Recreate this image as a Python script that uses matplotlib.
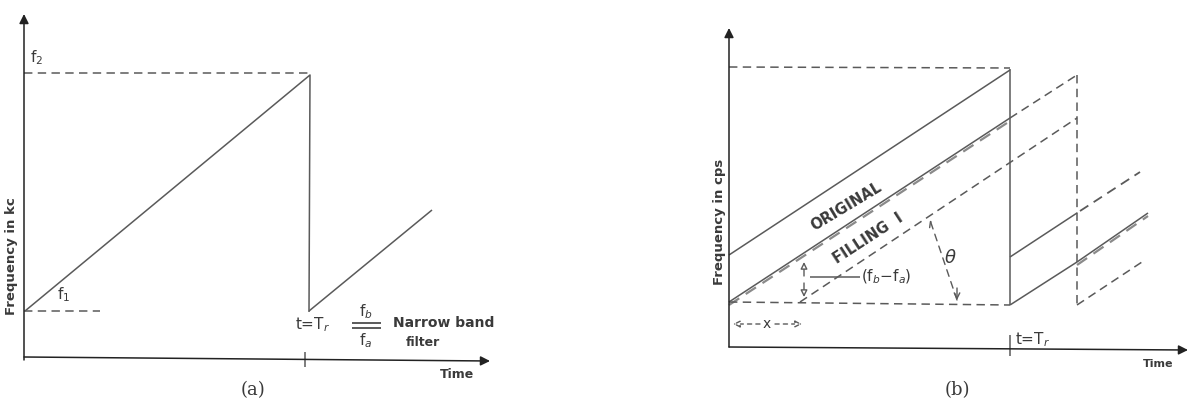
import matplotlib.pyplot as plt

# diagram coordinates (pixel units, y downward)
# ---- panel (a)
a_yaxis = [(24, 360), (24, 14)]
a_xaxis = [(24, 357), (490, 361)]
a_f2 = [(24, 73), (310, 73)]
a_ramp1 = [(25, 311), (310, 75), (309, 312)]
a_ramp2 = [(309, 311), (432, 210)]
a_f1 = [(24, 311), (100, 311)]
a_tick = [(305, 352), (305, 367)]
a_filter1 = [(352, 323), (381, 323)]
a_filter2 = [(352, 328), (381, 328)]

# ---- panel (b)
b_yaxis = [(729, 347), (729, 28)]
b_xaxis = [(729, 347), (1188, 350)]
b_top = [(729, 67), (1010, 68)]
b_drop = [(1010, 69), (1010, 305)]
b_original = [(729, 255), (1010, 70)]
b_fill = [(729, 302), (1010, 118)]
b_fill_ext = [(1010, 118), (1077, 75)]
b_shift_vert = [(1077, 75), (1077, 305)]
b_lower = [(800, 302), (1077, 118)]
b_base = [(729, 302), (1010, 305)]
b_orig2 = [(1010, 257), (1077, 213)]
b_orig2_ext = [(1080, 211), (1140, 172)]
b_fill2 = [(1010, 305), (1077, 262)]
b_fill2_ext = [(1077, 262), (1148, 213)]
b_lower2 = [(1077, 305), (1145, 260)]
b_theta = [(930, 220), (957, 300)]
b_tick = [(1010, 335), (1010, 356)]
b_fba_lead = [(810, 277), (860, 277)]

gray = "#5a5a5a"
txt = "#3a3a3a"

fig = plt.figure(figsize=(11.9, 4.12), dpi=100)
ax = fig.add_axes([0, 0, 1, 1])
ax.set_xlim(0, 1190)
ax.set_ylim(412, 0)
ax.axis("off")


def seg(pts, dashed=False, lw=1.1, color=gray):
    xs = [p[0] for p in pts]
    ys = [p[1] for p in pts]
    ln, = ax.plot(xs, ys, color=color, lw=lw, solid_capstyle="butt")
    if dashed:
        ln.set_dashes((5.5, 3.5))
    return ln


def arrow_up(p0, p1):
    ax.annotate("", xy=p1, xytext=p0,
                arrowprops=dict(arrowstyle="-|>", color="#222222", lw=1.1,
                                mutation_scale=14, shrinkA=0, shrinkB=0))


# panel (a)
arrow_up(*a_yaxis)
arrow_up(*a_xaxis)
seg(a_f2, dashed=True)
seg(a_ramp1)
seg(a_ramp2)
seg(a_f1, dashed=True)
seg(a_tick)
seg(a_filter1, lw=1.4)
seg(a_filter2, lw=1.4)

ax.text(37, 58, r"f$_2$", fontsize=11, color=txt, ha="center", va="center")
ax.text(64, 295, r"f$_1$", fontsize=11, color=txt, ha="center", va="center")
ax.text(313, 325, r"t=T$_r$", fontsize=11, color=txt, ha="center", va="center")
ax.text(366, 312, r"f$_b$", fontsize=11, color=txt, ha="center", va="center")
ax.text(366, 341, r"f$_a$", fontsize=11, color=txt, ha="center", va="center")
ax.text(393, 323, "Narrow band", fontsize=10, color=txt, ha="left", va="center",
        fontweight="bold")
ax.text(406, 343, "filter", fontsize=9, color=txt, ha="left", va="center",
        fontweight="bold")
ax.text(457, 375, "Time", fontsize=9, color=txt, ha="center", va="center",
        fontweight="bold")
ax.text(12, 256, "Frequency in kc", fontsize=9.5, color=txt, rotation=90,
        ha="center", va="center", fontweight="bold")
ax.text(253, 390, "(a)", fontsize=13, color=txt, ha="center", va="center",
        family="DejaVu Serif")

# panel (b)
arrow_up(*b_yaxis)
arrow_up(*b_xaxis)
seg(b_top, dashed=True)
seg(b_drop)
seg(b_original)
seg(b_fill)
seg([(p[0], p[1] + 3) for p in b_fill], dashed=True, color="#8a8a8a", lw=1.6)
seg(b_fill_ext, dashed=True)
seg(b_shift_vert, dashed=True)
seg(b_lower, dashed=True)
seg(b_base, dashed=True)
seg(b_orig2)
seg(b_orig2_ext, dashed=True, lw=1.3)
seg(b_fill2)
seg([(p[0], p[1] + 3) for p in b_fill2_ext], dashed=True, color="#8a8a8a", lw=1.6)
seg(b_fill2_ext)
seg(b_lower2, dashed=True)
seg(b_tick)
seg(b_fba_lead)

# theta annotation
ax.annotate("", xy=b_theta[0], xytext=b_theta[1],
            arrowprops=dict(arrowstyle="->", color=gray, lw=1.0, ls=(0, (5, 4)),
                            shrinkA=0, shrinkB=0))
ax.annotate("", xy=b_theta[1], xytext=(b_theta[1][0], b_theta[1][1] - 12),
            arrowprops=dict(arrowstyle="->", color=gray, lw=1.0,
                            shrinkA=0, shrinkB=0))
ax.text(950, 258, r"$\theta$", fontsize=13, color=txt, ha="center", va="center")

# (fb - fa) arrows
ax.annotate("", xy=(804, 262), xytext=(804, 276),
            arrowprops=dict(arrowstyle="-|>", color=gray, lw=1.0, fc="white",
                            mutation_scale=10, shrinkA=0, shrinkB=0))
ax.annotate("", xy=(804, 297), xytext=(804, 283),
            arrowprops=dict(arrowstyle="-|>", color=gray, lw=1.0, fc="white",
                            mutation_scale=10, shrinkA=0, shrinkB=0))
ax.text(861, 277, r"(f$_b$$-$f$_a$)", fontsize=11, color=txt, ha="left",
        va="center")

# x annotation
ax.annotate("", xy=(733, 324), xytext=(760, 324),
            arrowprops=dict(arrowstyle="-|>", color=gray, lw=1.0, fc="white",
                            ls=(0, (3, 3)), mutation_scale=10, shrinkA=0, shrinkB=0))
ax.annotate("", xy=(802, 324), xytext=(775, 324),
            arrowprops=dict(arrowstyle="-|>", color=gray, lw=1.0, fc="white",
                            ls=(0, (3, 3)), mutation_scale=10, shrinkA=0, shrinkB=0))
ax.text(767, 324, "x", fontsize=10, color=txt, ha="center", va="center")

ax.text(846, 207, "ORIGINAL", fontsize=10.5, color=txt, rotation=31,
        ha="center", va="center", fontweight="bold")
ax.text(868, 238, "FILLING  I", fontsize=10.5, color=txt, rotation=33,
        ha="center", va="center", fontweight="bold")
ax.text(1015, 340, r"t=T$_r$", fontsize=11, color=txt, ha="left", va="center")
ax.text(1158, 364, "Time", fontsize=8, color=txt, ha="center", va="center",
        fontweight="bold")
ax.text(720, 222, "Frequency in cps", fontsize=9.5, color=txt, rotation=90,
        ha="center", va="center", fontweight="bold")
ax.text(957, 390, "(b)", fontsize=13, color=txt, ha="center", va="center",
        family="DejaVu Serif")

fig.savefig("out.png", dpi=100)
